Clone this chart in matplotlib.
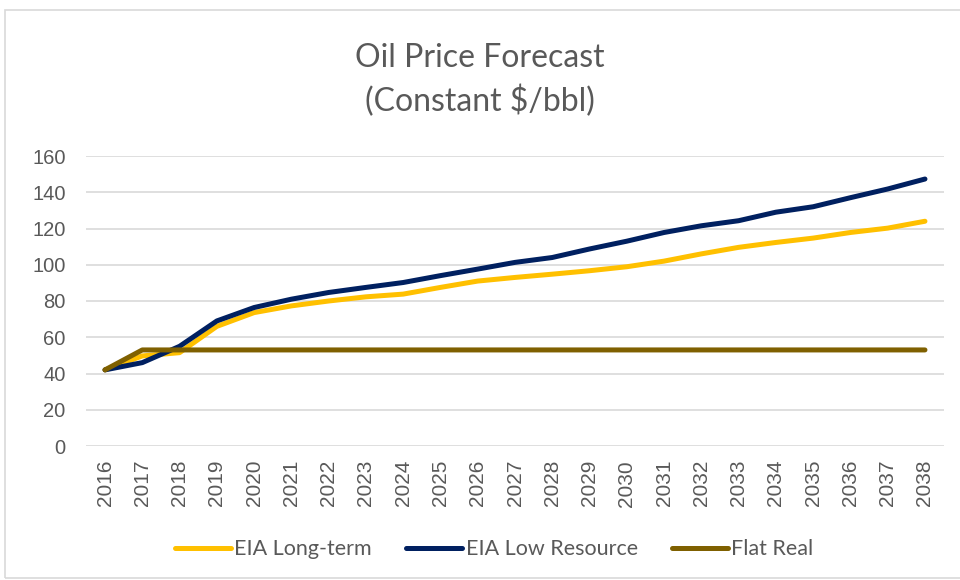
import matplotlib.pyplot as plt
from matplotlib.patches import Rectangle

years = [str(y) for y in range(2016, 2039)]
eia_long_term = [42, 49.7, 51.5, 66, 73.6, 77.3, 80, 82.3, 83.8, 87.5, 91, 93, 94.8,
                 96.7, 98.9, 102, 106, 109.6, 112.3, 114.7, 117.8, 120.2, 124]
eia_low_resource = [42, 46, 55, 69, 76.4, 81, 84.7, 87.5, 90.2, 94, 97.6, 101.3, 104,
                    108.7, 113, 117.8, 121.5, 124.3, 129, 132, 137, 141.8, 147.3]
flat_real = [42] + [53] * 22

plt.rcParams['font.family'] = ['Lato', 'DejaVu Sans']
text_color = '#595959'

fig = plt.figure(figsize=(9.6, 5.8), dpi=100)
fig.patches.append(Rectangle((5 / 960, 0.003), 1.2, (570 - 2) / 580, transform=fig.transFigure,
                             fill=False, edgecolor='#d9d9d9', linewidth=1.2))
ax = fig.add_axes([86.4 / 960, (580 - 446) / 580, (943.6 - 86.4) / 960, 290 / 580])

x = range(len(years))
ax.plot(x, eia_long_term, color='#ffc000', lw=3.6, solid_capstyle='round', label='EIA Long-term')
ax.plot(x, eia_low_resource, color='#002060', lw=3.6, solid_capstyle='round', label='EIA Low Resource')
ax.plot(x, flat_real, color='#7f6000', lw=3.6, solid_capstyle='round', label='Flat Real')

ax.set_xlim(-0.5, len(years) - 0.5)
ax.set_ylim(0, 160)
ax.set_yticks(range(0, 161, 20))
ax.set_xticks(list(x))
ax.set_xticklabels(years, rotation=90, family='Liberation Sans')
ax.set_yticklabels([str(v) for v in range(0, 161, 20)], family='Liberation Sans')
ax.grid(axis='y', color='#d9d9d9', lw=1.2)
ax.set_axisbelow(True)
for s in ax.spines.values():
    s.set_visible(False)
ax.tick_params(axis='y', length=0, labelsize=14.5, colors=text_color, pad=15)
ax.tick_params(axis='x', length=0, labelsize=15, colors=text_color, pad=10)

fig.text(0.5, 0.862, 'Oil Price Forecast\n(Constant $/bbl)', ha='center', va='center',
         fontsize=23, color=text_color, linespacing=1.45)

fig.legend(loc='center', bbox_to_anchor=(0.515, 0.053), ncol=3, frameon=False, fontsize=15.5,
           labelcolor=text_color, handlelength=2.6, handletextpad=0.15, columnspacing=1.6)

fig.savefig('out.png')
